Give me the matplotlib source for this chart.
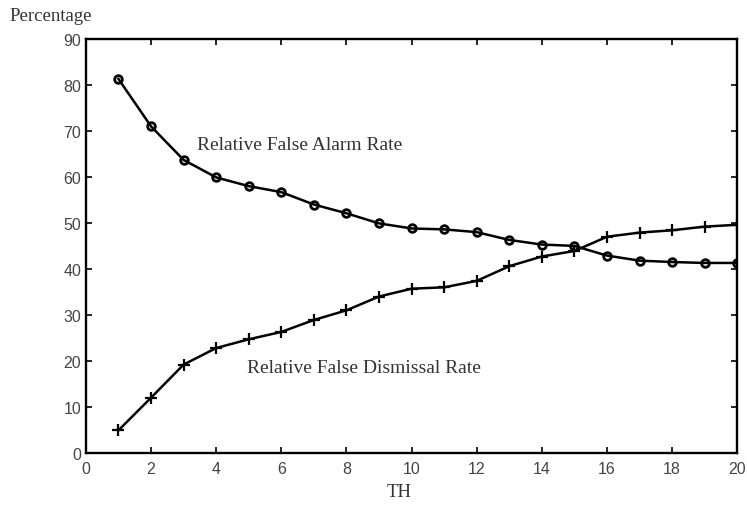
import numpy as np
import matplotlib.pyplot as plt

th = np.arange(1, 21)
false_alarm = [81.3, 71.0, 63.7, 59.9, 58.0, 56.7, 54.0, 52.1, 49.9, 48.8,
               48.6, 48.0, 46.3, 45.3, 45.0, 42.9, 41.8, 41.5, 41.3, 41.3]
false_dismissal = [4.9, 12.0, 19.2, 22.8, 24.7, 26.3, 28.9, 31.0, 34.0, 35.7,
                   36.0, 37.4, 40.6, 42.7, 43.9, 47.0, 47.9, 48.4, 49.2, 49.6]

serif = 'Liberation Serif'
sans = 'Liberation Sans'

fig = plt.figure(figsize=(7.47, 5.06), dpi=100)
ax = fig.add_axes([0.115, 0.103, 0.872, 0.818])

ax.plot(th, false_alarm, color='black', linewidth=1.8, marker='o',
        markersize=5.5, markerfacecolor='none', markeredgewidth=2)
ax.plot(th, false_dismissal, color='black', linewidth=1.8, marker='+',
        markersize=8, markeredgewidth=1.6)

ax.set_xlim(0, 20)
ax.set_ylim(0, 90)
ax.set_xticks(np.arange(0, 21, 2))
ax.set_yticks(np.arange(0, 91, 10))
ax.tick_params(direction='in', length=4, width=1.2, top=True, right=True,
               labelsize=11.5, colors='black')
for lab in ax.get_xticklabels() + ax.get_yticklabels():
    lab.set_family(sans)
    lab.set_color('#444444')
ax.tick_params(axis='x', pad=6)
for s in ax.spines.values():
    s.set_linewidth(1.7)

ax.text(3.4, 67, 'Relative False Alarm Rate', family=serif, fontsize=14,
        color='#333333', va='center')
ax.text(4.95, 18.6, 'Relative False Dismissal Rate', family=serif,
        fontsize=14, color='#333333', va='center')

fig.text(0.012, 0.968, 'Percentage', family=serif, fontsize=13.5,
         color='#333333', va='center', ha='left')
fig.text(0.534, 0.026, 'TH', family=serif, fontsize=13.5, color='#333333',
         va='center', ha='center')

fig.savefig('out.png', dpi=100)
